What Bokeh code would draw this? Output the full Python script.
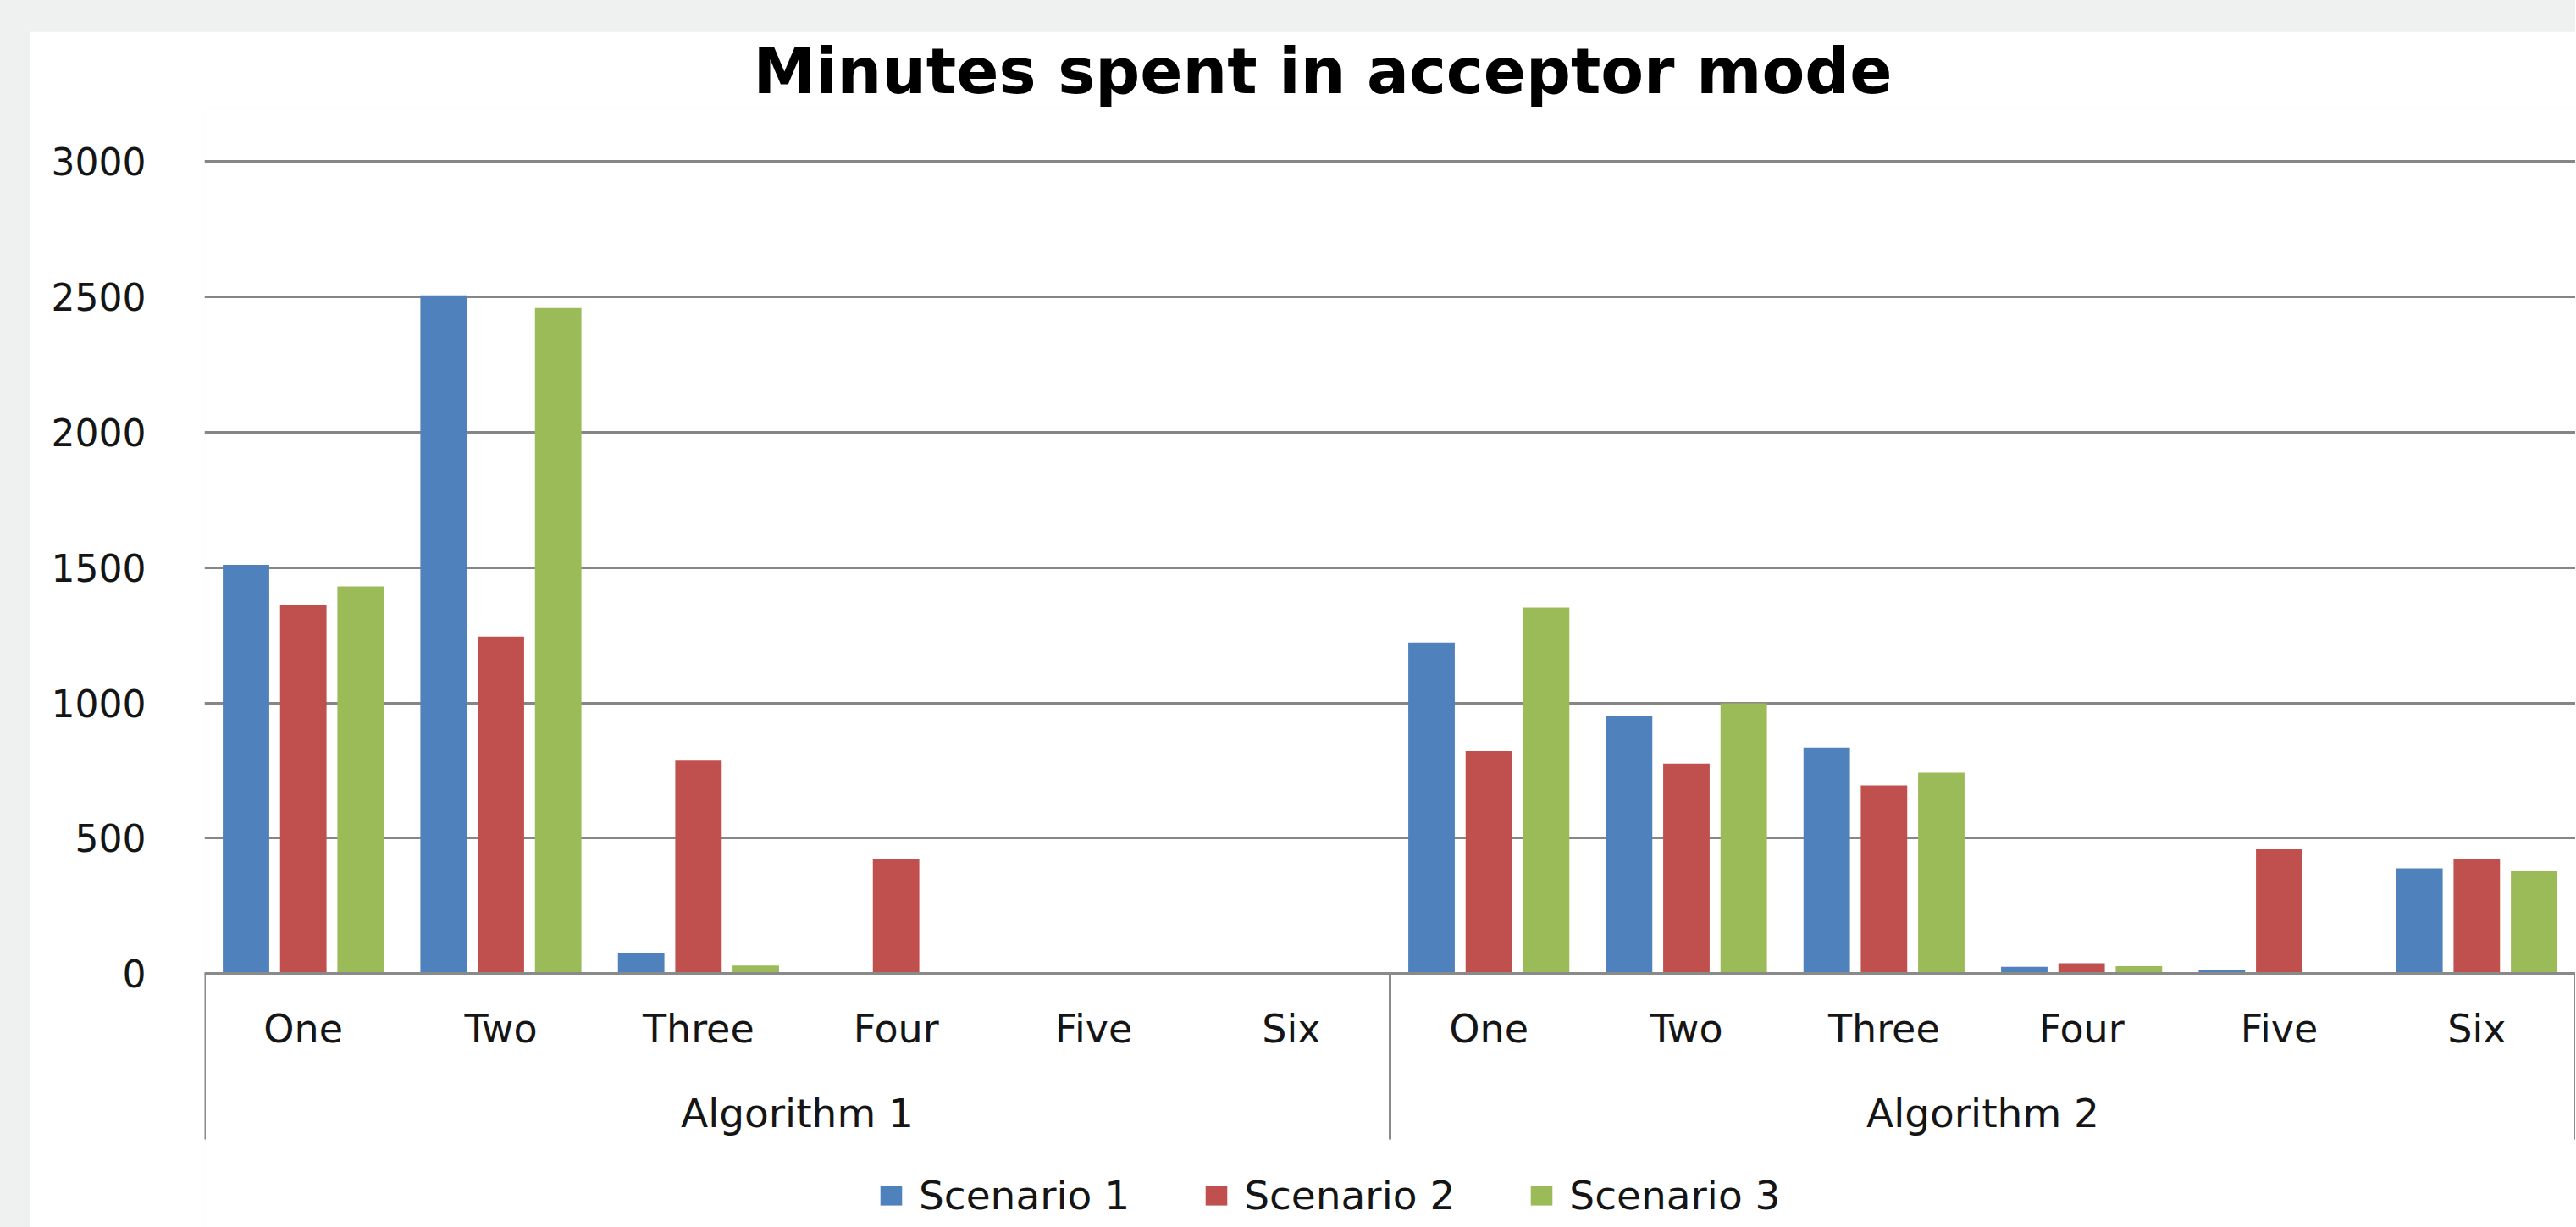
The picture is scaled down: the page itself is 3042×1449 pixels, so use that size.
from bokeh.plotting import figure
from bokeh.models import FactorRange, Range1d, FixedTicker, CategoricalAxis, ColumnDataSource
from bokeh.transform import dodge
from bokeh.layouts import column
from bokeh.embed import file_html
from bokeh.resources import INLINE

# ---- data ----
title_text = "Minutes spent in acceptor mode"
algorithms = ["Algorithm 1", "Algorithm 2"]
categories = ["One", "Two", "Three", "Four", "Five", "Six"]
series_names = ["Scenario 1", "Scenario 2", "Scenario 3"]
scenario1 = [1510, 2505, 75, 0, 0, 0, 1223, 952, 835, 25, 15, 389]
scenario2 = [1360, 1245, 787, 425, 0, 0, 822, 776, 695, 39, 459, 424]
scenario3 = [1430, 2458, 30, 0, 0, 0, 1352, 999, 742, 28, 0, 378]
y_ticks = [0, 500, 1000, 1500, 2000, 2500, 3000]
colors = ["#4F81BD", "#C0504D", "#9BBB59"]

FONT = "DejaVu Sans"
TXT = "#151515"
GRID = "#868686"

factors = [(a, c) for a in algorithms for c in categories]
src = ColumnDataSource(dict(x=factors, s1=scenario1, s2=scenario2, s3=scenario3))

W, H = 3006, 1412
p = figure(width=W, height=H, output_backend="svg", toolbar_location=None,
           x_range=FactorRange(factors=factors, group_padding=0, factor_padding=0, range_padding=0),
           y_range=Range1d(-937, 3194),
           min_border_left=206, min_border_right=0, min_border_bottom=0, min_border_top=0)
p.outline_line_color = None
p.background_fill_color = "white"
p.border_fill_color = "white"

# title
p.title.text = title_text
p.title.align = "left"
p.title.offset = 648
p.title.standoff = 3
p.title.text_font = FONT
p.title.text_font_style = "bold"
p.title.text_font_size = "74px"
p.title.text_color = "#000000"

# bars
offsets = [-0.29, 0.0, 0.29]
for col, off, name, c in zip(["s1", "s2", "s3"], offsets, series_names, colors):
    p.vbar(x=dodge("x", off, range=p.x_range), top=col, width=0.235, source=src,
           fill_color=c, line_color=None, legend_label=name)

# category separators in the axis area
sep_x = [(a, categories[0], -0.5) for a in algorithms] + [(algorithms[-1], categories[-1], 0.5)]
sep_src = ColumnDataSource(dict(x=sep_x, y0=[0] * len(sep_x), y1=[-612] * len(sep_x)))
p.segment(x0="x", y0="y0", x1="x", y1="y1", source=sep_src, line_color="#8a8a8a", line_width=3)

# y axis / grid
p.yaxis.ticker = FixedTicker(ticks=y_ticks)
p.yaxis.axis_line_color = None
p.yaxis.major_tick_line_color = None
p.yaxis.minor_tick_line_color = None
p.yaxis.major_label_standoff = 63
p.yaxis.major_label_text_font = FONT
p.yaxis.major_label_text_font_size = "44px"
p.yaxis.major_label_text_color = TXT
p.ygrid.ticker = FixedTicker(ticks=y_ticks)
p.ygrid.grid_line_color = GRID
p.ygrid.grid_line_width = 3
p.xgrid.grid_line_color = None

# x axis (sub categories)
xa = p.xaxis[0]
xa.fixed_location = 0
xa.axis_line_color = "#8a8a8a"
xa.axis_line_width = 3
xa.major_tick_line_color = None
xa.minor_tick_line_color = None
xa.major_label_standoff = 32
xa.major_label_text_font = FONT
xa.major_label_text_font_size = "46px"
xa.major_label_text_color = TXT
xa.group_text_color = None
xa.separator_line_color = None

# group axis
p.extra_x_ranges = {"groups": FactorRange(factors=algorithms, range_padding=0)}
ga = CategoricalAxis(x_range_name="groups", fixed_location=0)
ga.axis_line_color = None
ga.major_tick_line_color = None
ga.minor_tick_line_color = None
ga.major_label_standoff = 131
ga.major_label_text_font = FONT
ga.major_label_text_font_size = "47px"
ga.major_label_text_color = TXT
p.add_layout(ga, "below")

# legend
lg = p.legend[0]
lg.orientation = "horizontal"
lg.location = (795, 10)
lg.glyph_width = 32
lg.glyph_height = 29
lg.label_standoff = 17
lg.spacing = 86
lg.padding = 0
lg.margin = 0
lg.border_line_color = None
lg.background_fill_alpha = 0
lg.label_text_font = FONT
lg.label_text_font_size = "47px"
lg.label_text_color = TXT

layout = column(p, styles={"background-color": "#eff1f0", "padding-top": "37px", "padding-left": "35px"})

open("out.html", "w").write(file_html(layout, INLINE))
